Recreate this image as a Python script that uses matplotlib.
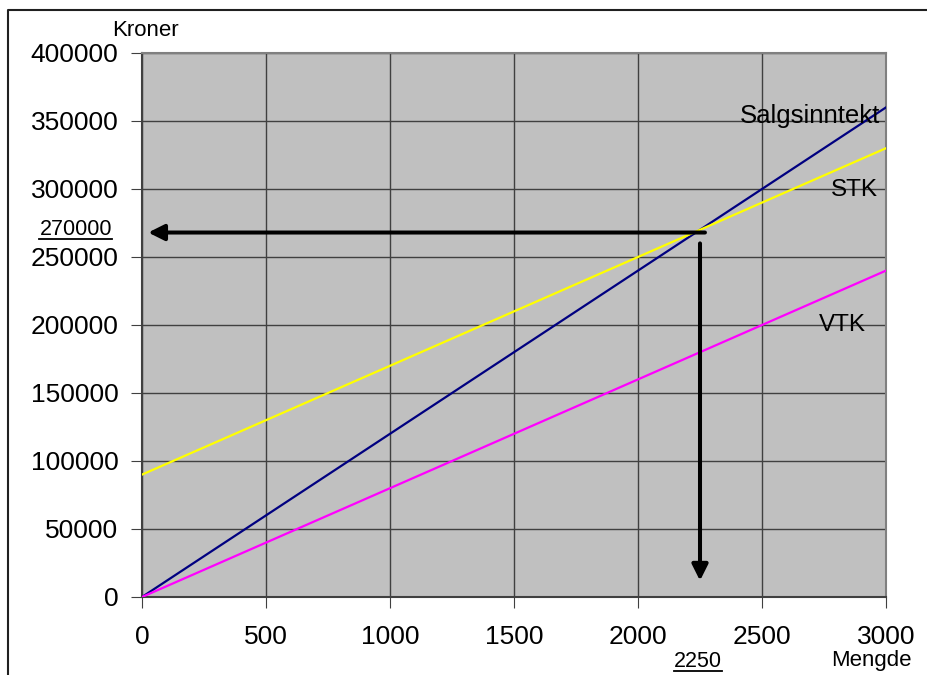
import matplotlib.pyplot as plt
from matplotlib.lines import Line2D

plt.rcParams['font.family'] = ['Liberation Sans', 'DejaVu Sans']

# Data
mengde = [0, 500, 1000, 1500, 2000, 2500, 3000]
salgsinntekt = [0, 60000, 120000, 180000, 240000, 300000, 360000]
stk = [90000, 130000, 170000, 210000, 250000, 290000, 330000]
vtk = [0, 40000, 80000, 120000, 160000, 200000, 240000]
be_x, be_y = 2250, 270000

fig = plt.figure(figsize=(9.28, 6.75), dpi=100)
ax = fig.add_axes([142/928, 1-597/675, (886-142)/928, (597-53)/675])
ax.set_facecolor('#c0c0c0')

ax.plot(mengde, salgsinntekt, color='#000080', lw=1.6, zorder=3)
ax.plot(mengde, stk, color='#ffff00', lw=1.6, zorder=3)
ax.plot(mengde, vtk, color='#ff00ff', lw=1.6, zorder=3)

# arrows from break-even point
ax.annotate('', xy=(25, 268000), xytext=(be_x + 20, 268000),
            arrowprops=dict(arrowstyle='-|>', lw=2.9, color='black',
                            mutation_scale=24, shrinkA=0, shrinkB=0), zorder=4)
ax.annotate('', xy=(be_x, 12000), xytext=(be_x, 260000),
            arrowprops=dict(arrowstyle='-|>', lw=2.9, color='black',
                            mutation_scale=24, shrinkA=0, shrinkB=0), zorder=4)

ax.set_xlim(0, 3000)
ax.set_ylim(0, 400000)
ax.set_xticks(mengde)
ax.set_yticks(range(0, 400001, 50000))
ax.grid(True, color='#404040', lw=1.0)
ax.set_axisbelow(True)
for s in ax.spines.values():
    s.set_color('#808080')
    s.set_linewidth(1.5)
ax.spines['left'].set_color('#404040')
ax.spines['bottom'].set_color('#404040')
ax.tick_params(axis='both', direction='out', length=8, color='#404040', labelsize=19)
ax.tick_params(axis='x', pad=12)
ax.tick_params(axis='y', pad=9)

ax.text(2976, 354000, 'Salgsinntekt', ha='right', va='center', fontsize=18.5, zorder=5)
ax.text(2968, 299000, 'STK', ha='right', va='center', fontsize=17.5, zorder=5)
ax.text(2919, 200000, 'VTK', ha='right', va='center', fontsize=17.5, zorder=5)

fig.text(112/928, 1-36/675, 'Kroner', ha='left', va='baseline', fontsize=16)
fig.text(912/928, 1-666/675, 'Mengde', ha='right', va='baseline', fontsize=16)

# underlined labels
t1 = fig.text(112/928, 1-235/675, '270000', ha='right', va='baseline', fontsize=15.5)
t2 = fig.text(698/928, 1-667/675, '2250', ha='center', va='baseline', fontsize=15.5)
fig.canvas.draw()
r = fig.canvas.get_renderer()
for t in (t1, t2):
    bb = t.get_window_extent(r).transformed(fig.transFigure.inverted())
    yl = bb.y0 + 1/675
    fig.add_artist(Line2D([bb.x0, bb.x1], [yl, yl], color='black', lw=1.3))

# outer frame
fig.add_artist(Line2D([8/928, 8/928, 1], [0, 1-10/675, 1-10/675], color='#202020', lw=1.5))

fig.savefig('out.png', dpi=100)
